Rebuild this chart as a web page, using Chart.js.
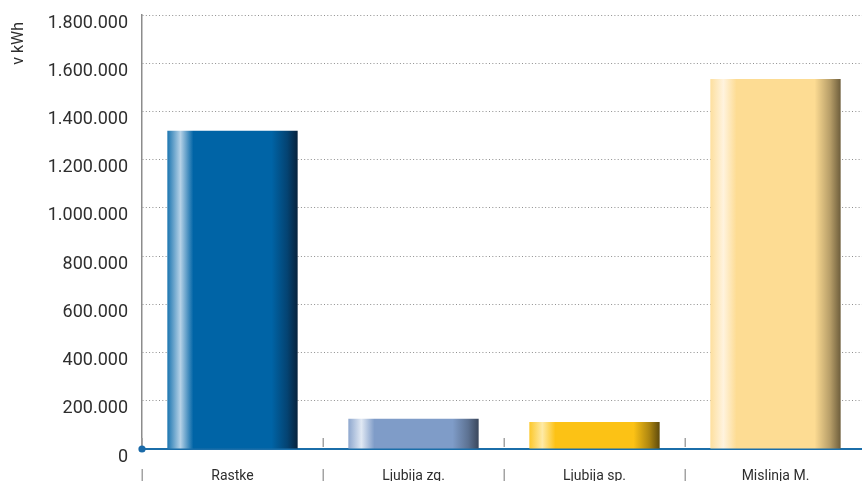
<!DOCTYPE html>
<html><head><meta charset="utf-8">
<script src="https://cdn.jsdelivr.net/npm/chart.js@4"></script>
<style>
html,body{margin:0;padding:0;background:#fff;overflow:hidden}
#wrap{position:relative;width:867px;height:490px}
</style></head><body>
<div id="wrap"><canvas id="c" width="867" height="490"></canvas></div>
<script>
const categories = ['Rastke', 'Ljubija zg.', 'Ljubija sp.', 'Mislinja M.'];
const values = [1320000, 125000, 112000, 1535000];
const yTitle = 'v kWh';
const baseColors = ['#0064a6', '#7f9cc8', '#fcc215', '#fddc93'];
const lightColors = ['#b6d2e7', '#e0e8f3', '#feeaa6', '#fff3de'];
const darkColors = ['#07223d', '#3a475c', '#5e4a0c', '#6e5e3c'];
const yTickValues = [0, 200000, 400000, 600000, 800000, 1000000, 1200000, 1400000, 1600000, 1800000];

function hexToRgb(h){h=h.replace('#','');return [0,2,4].map(i=>parseInt(h.substr(i,2),16));}
function mix(a,b,t){const A=hexToRgb(a),B=hexToRgb(b);return 'rgb('+A.map((v,i)=>Math.round(v+(B[i]-v)*t)).join(',')+')';}
function fmt(v){return String(v).replace(/\B(?=(\d{3})+(?!\d))/g,'.');}

const BAR_P = 0.8, CAT_P = 0.9;

function barFill(ctx){
  const i = ctx.dataIndex;
  const chart = ctx.chart;
  const xs = chart.scales && chart.scales.x;
  if (i === undefined) return baseColors[0];
  if (!xs || !xs.width) return baseColors[i];
  const cw = xs.width / categories.length;
  const cx = xs.getPixelForValue(i);
  const w = cw * BAR_P * CAT_P;
  const x0 = cx - w/2, x1 = cx + w/2;
  const g = chart.ctx.createLinearGradient(x0, 0, x1, 0);
  const b = baseColors[i], l = lightColors[i], d = darkColors[i];
  g.addColorStop(0, mix(b, l, 0.15));
  g.addColorStop(0.1, l);
  g.addColorStop(0.2, b);
  g.addColorStop(0.8, b);
  g.addColorStop(0.92, mix(b, d, 0.5));
  g.addColorStop(1, d);
  return g;
}

const decor = {
  id: 'decor',
  afterDraw(chart){
    const {ctx, scales:{x, y}} = chart;
    const base = y.getPixelForValue(0);
    const cw = x.width / categories.length;
    ctx.save();
    ctx.strokeStyle = '#a3a3a3';
    ctx.lineWidth = 1.5;
    for (let i = 0; i <= categories.length; i++){
      const px = Math.round(x.getPixelForValue(0) - cw/2 + i*cw) + 0.25;
      ctx.beginPath();
      ctx.moveTo(px, base - 11); ctx.lineTo(px, base - 2);
      ctx.moveTo(px, base + 20); ctx.lineTo(px, base + 34);
      ctx.stroke();
    }
    ctx.fillStyle = '#1a6aa8';
    ctx.beginPath();
    ctx.arc(x.left, base, 3.6, 0, Math.PI*2);
    ctx.fill();
    // axis title
    ctx.translate(19, y.top + 7);
    ctx.rotate(-Math.PI/2);
    ctx.font = '16px Roboto';
    ctx.fillStyle = '#2e2e2e';
    ctx.textAlign = 'right';
    ctx.textBaseline = 'middle';
    ctx.fillText(yTitle, 0, 0);
    ctx.restore();
  }
};

Chart.defaults.font.family = 'Roboto';
Chart.defaults.color = '#2e2e2e';

new Chart(document.getElementById('c'), {
  type: 'bar',
  data: {
    labels: categories,
    datasets: [{
      data: values,
      backgroundColor: barFill,
      borderWidth: 0,
      barPercentage: BAR_P,
      categoryPercentage: CAT_P
    }]
  },
  options: {
    responsive: false,
    devicePixelRatio: 1,
    animation: false,
    layout: { padding: { top: 15, right: 1, left: 0, bottom: 0 } },
    plugins: { legend: { display: false }, tooltip: { enabled: false } },
    scales: {
      x: {
        grid: { display: false, drawTicks: false },
        border: { display: true, color: '#1b6ea9', width: 2 },
        ticks: { padding: 19, font: { size: 14 }, color: '#2e2e2e', maxRotation: 0 },
        afterFit(s){ s.height = 41; s.paddingLeft = 0; s.paddingRight = 0; }
      },
      y: {
        min: 0, max: 1800000,
        afterBuildTicks(s){ s.ticks = yTickValues.map(v => ({value: v})); },
        grid: {
          drawTicks: false,
          color: c => c.tick && c.tick.value === 0 ? 'rgba(0,0,0,0)' : '#8f8f8f',
          lineWidth: 1
        },
        border: { display: true, color: '#8c8c8c', width: 1.5, dash: [1, 2.3] },
        ticks: {
          padding: 14, labelOffset: 8,
          font: { size: 18 }, color: '#2e2e2e',
          callback: v => fmt(v)
        },
        title: { display: false },
        afterFit(s){ s.width = 142; s.paddingTop = 0; s.paddingBottom = 0; }
      }
    }
  },
  plugins: [decor]
});
</script>
</body></html>
